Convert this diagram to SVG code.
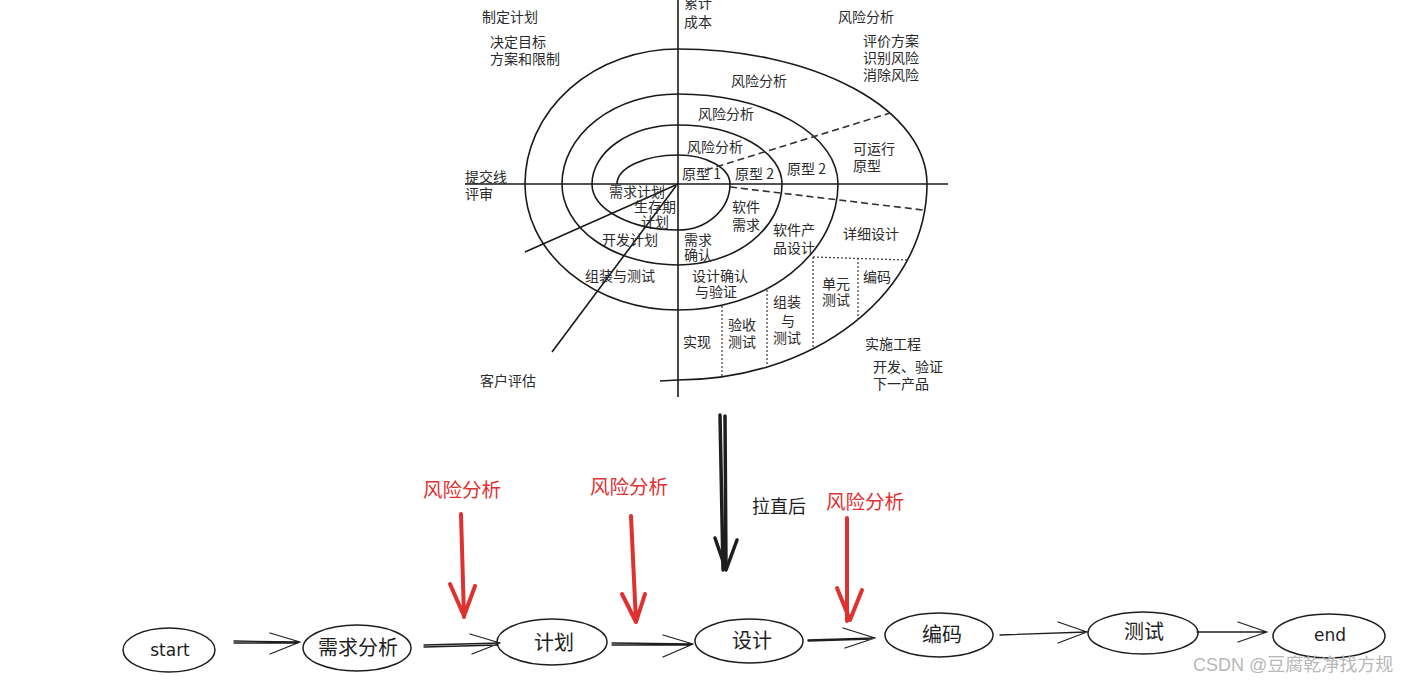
<svg xmlns="http://www.w3.org/2000/svg" width="1421" height="684" viewBox="0 0 1421 684">
<style>
.t{font-family:"Noto Sans CJK SC","Liberation Sans",sans-serif;font-size:14px;fill:#2a2a2a}
.ln{fill:none;stroke:#1a1a1a;stroke-width:1.6}
.dash{fill:none;stroke:#333;stroke-width:1.6;stroke-dasharray:7 4}
.dot{fill:none;stroke:#444;stroke-width:1.3;stroke-dasharray:2 2}
.red{font-family:"Noto Sans CJK SC","Liberation Sans",sans-serif;font-size:19.5px;fill:#e03131}
.ra{fill:none;stroke:#e03131;stroke-width:4;stroke-linecap:round;stroke-linejoin:round}
.node ellipse{fill:none;stroke:#1e1e1e;stroke-width:1.5}
.nt{font-family:"Noto Sans CJK SC","Liberation Sans",sans-serif;font-size:20px;fill:#1e1e1e;text-anchor:middle}
.hw{font-family:"DejaVu Sans","Noto Sans",sans-serif;font-size:17px;fill:#1e1e1e;text-anchor:middle}
.c{fill:none;stroke:#1e1e1e;stroke-width:1.3;stroke-linecap:round;stroke-linejoin:round}
</style>
<rect width="1421" height="684" fill="#ffffff"/>

<g id="spiral-figure">
  <line class="ln" x1="465" y1="184" x2="948" y2="184"/>
  <line class="ln" x1="678" y1="0" x2="678" y2="397"/>
  <path class="ln" d="M617,184 A61,29 0 0 1 678,155 A52,29 0 0 1 730,184 A52,46 0 0 1 678,230 A86,46 0 0 1 592,184 A86,59 0 0 1 678,125 A104,59 0 0 1 782,184 A104,81 0 0 1 678,265 A116,81 0 0 1 562,184 A116,90 0 0 1 678,94 A160,90 0 0 1 838,184 A160,126 0 0 1 678,310 A153,126 0 0 1 525,184 A153,135 0 0 1 678,49 A249,135 0 0 1 927,184 A249,196 0 0 1 678,380 L660,381"/>
  <line class="ln" x1="678" y1="184" x2="525" y2="252"/>
  <line class="ln" x1="676" y1="186" x2="552" y2="352"/>
  <line class="dash" x1="706" y1="170" x2="890" y2="113"/>
  <line class="dash" x1="730" y1="187" x2="923" y2="210"/>
  <path class="dot" d="M813,257 L907,260 M813,257 L813,349 M858,258 L858,320 M767,290 L767,367 M722,306 L722,377"/>

  <text class="t" x="482" y="22">制定计划</text>
  <text class="t" x="490" y="47">决定目标</text>
  <text class="t" x="490" y="64">方案和限制</text>
  <text class="t" x="684" y="8">累计</text>
  <text class="t" x="684" y="27">成本</text>
  <text class="t" x="838" y="22">风险分析</text>
  <text class="t" x="863" y="46">评价方案</text>
  <text class="t" x="863" y="63">识别风险</text>
  <text class="t" x="863" y="80">消除风险</text>
  <text class="t" x="731" y="86">风险分析</text>
  <text class="t" x="698" y="119">风险分析</text>
  <text class="t" x="687" y="152">风险分析</text>
  <text class="t" x="682" y="179">原型 1</text>
  <text class="t" x="735" y="179">原型 2</text>
  <text class="t" x="787" y="174">原型 2</text>
  <text class="t" x="853" y="154">可运行</text>
  <text class="t" x="853" y="171">原型</text>
  <text class="t" x="609" y="197">需求计划</text>
  <text class="t" x="634" y="212">生存期</text>
  <text class="t" x="641" y="227">计划</text>
  <text class="t" x="602" y="245">开发计划</text>
  <text class="t" x="684" y="245">需求</text>
  <text class="t" x="684" y="260">确认</text>
  <text class="t" x="732" y="212">软件</text>
  <text class="t" x="732" y="230">需求</text>
  <text class="t" x="773" y="235">软件产</text>
  <text class="t" x="773" y="253">品设计</text>
  <text class="t" x="843" y="239">详细设计</text>
  <text class="t" x="822" y="289">单元</text>
  <text class="t" x="822" y="305">测试</text>
  <text class="t" x="863" y="282">编码</text>
  <text class="t" x="773" y="307">组装</text>
  <text class="t" x="781" y="326">与</text>
  <text class="t" x="773" y="343">测试</text>
  <text class="t" x="692" y="281">设计确认</text>
  <text class="t" x="695" y="297">与验证</text>
  <text class="t" x="728" y="330">验收</text>
  <text class="t" x="728" y="347">测试</text>
  <text class="t" x="683" y="347">实现</text>
  <text class="t" x="865" y="349">实施工程</text>
  <text class="t" x="873" y="372">开发、验证</text>
  <text class="t" x="873" y="389">下一产品</text>
  <text class="t" x="585" y="281">组装与测试</text>
  <text class="t" x="465" y="182">提交线</text>
  <text class="t" x="465" y="199">评审</text>
  <text class="t" x="480" y="386">客户评估</text>
</g>

<g id="straighten-arrow">
  <path d="M720,415 L723,570 M725,416 L726,568" fill="none" stroke="#1e1e1e" stroke-width="3.5" stroke-linecap="round"/>
  <path d="M715,538 L726,570 L737,540" fill="none" stroke="#1e1e1e" stroke-width="3.5" stroke-linecap="round" stroke-linejoin="round"/>
  <text x="752" y="513" font-family="Noto Sans CJK SC, Liberation Sans, sans-serif" font-size="18" fill="#1e1e1e">拉直后</text>
</g>

<g id="risk-1">
  <text class="red" x="423" y="497">风险分析</text>
  <path class="ra" d="M461,514 L464,617 M450,584 L464,616 L475,586"/>
</g>
<g id="risk-2">
  <text class="red" x="590" y="494">风险分析</text>
  <path class="ra" d="M631,516 L636,622 M622,594 L636,622 L645,594"/>
</g>
<g id="risk-3">
  <text class="red" x="826" y="509">风险分析</text>
  <path class="ra" d="M847,518 L847,621 M837,588 L850,620 L862,590"/>
</g>

<g id="connectors">
  <path class="c" d="M234,641 L300,642 M234,643 L298,643 M270,633 L300,642 L270,654"/>
  <path class="c" d="M424,645 L500,643 M424,647 L498,645 M470,634 L500,643 L472,654"/>
  <path class="c" d="M612,643 L693,644 M612,645 L690,645 M663,635 L693,644 L663,657"/>
  <path class="c" d="M808,640 L875,638 M808,641 L872,639 M843,628 L875,638 L845,648"/>
  <path class="c" d="M1000,635 L1087,632 M1058,622 L1087,632 L1058,643"/>
  <path class="c" d="M1197,632 L1267,632 M1238,622 L1267,632 L1238,642"/>
</g>

<g id="node-start" class="node">
  <ellipse cx="169" cy="650" rx="46" ry="22"/>
  <text class="hw" x="170" y="656">start</text>
</g>
<g id="node-req" class="node">
  <ellipse cx="357" cy="648" rx="54" ry="23"/>
  <text class="nt" x="358" y="655">需求分析</text>
</g>
<g id="node-plan" class="node">
  <ellipse cx="552" cy="642" rx="55" ry="23"/>
  <text class="nt" x="554" y="650">计划</text>
</g>
<g id="node-design" class="node">
  <ellipse cx="749" cy="641" rx="54" ry="22"/>
  <text class="nt" x="752" y="648">设计</text>
</g>
<g id="node-code" class="node">
  <ellipse cx="939" cy="635" rx="54" ry="22"/>
  <text class="nt" x="942" y="642">编码</text>
</g>
<g id="node-test" class="node">
  <ellipse cx="1143" cy="633" rx="55" ry="21"/>
  <text class="nt" x="1144" y="639">测试</text>
</g>
<g id="node-end" class="node">
  <ellipse cx="1329" cy="636" rx="56" ry="22"/>
  <text class="hw" x="1330" y="641">end</text>
</g>

<text x="1193" y="671" font-family="Liberation Sans, Noto Sans CJK SC, sans-serif" font-size="18" fill="#b8b8b8">CSDN @豆腐乾净找方规</text>
</svg>
